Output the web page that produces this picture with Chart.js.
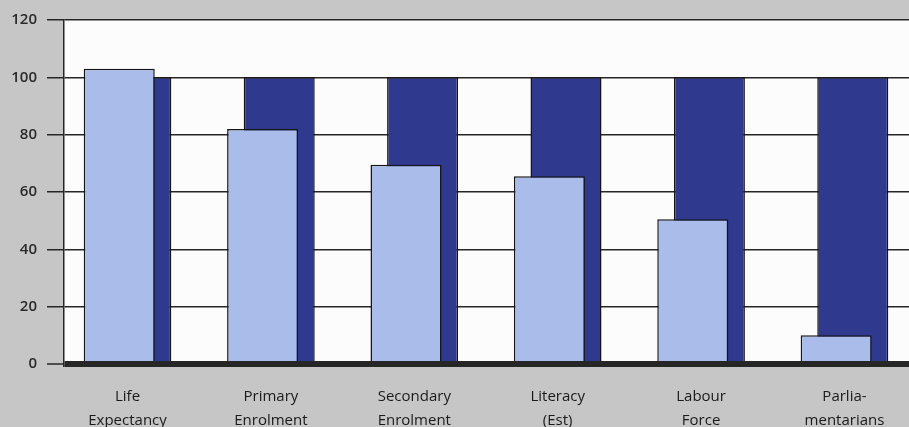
<!DOCTYPE html>
<html>
<head>
<meta charset="utf-8">
<script src="https://cdn.jsdelivr.net/npm/chart.js@4/dist/chart.umd.min.js"></script>
<style>
  html, body { margin: 0; padding: 0; background: #c6c6c6; overflow: hidden; }
  #wrap { position: relative; width: 909px; height: 427px; }
</style>
</head>
<body>
<div id="wrap"><canvas id="chart"></canvas></div>
<script>
const categories = [
    ['Life', 'Expectancy'],
    ['Primary', 'Enrolment'],
    ['Secondary', 'Enrolment'],
    ['Literacy', '(Est)'],
    ['Labour', 'Force'],
    ['Parlia-', 'mentarians']
];
const womenValues = [103, 82, 69.5, 65.5, 50.5, 10];
const menValues = [100, 100, 100, 100, 100, 100];
const yTicks = [0, 20, 40, 60, 80, 100, 120];

// white plot area on the grey scanned page
const plotBackground = {
    id: 'plotBackground',
    beforeDraw(chart) {
        const { ctx, chartArea } = chart;
        ctx.save();
        ctx.fillStyle = '#fcfcfc';
        ctx.fillRect(chartArea.left, chartArea.top, chartArea.right - chartArea.left, chartArea.bottom - chartArea.top);
        ctx.restore();
    }
};

const ctx = document.getElementById('chart').getContext('2d');
new Chart(ctx, {
    type: 'bar',
    data: {
        datasets: [{
            label: 'Women',
            data: womenValues.map((v, i) => ({ x: i, y: v })),
            backgroundColor: '#aabdea',
            borderColor: '#151515',
            borderWidth: 1.5
        }, {
            label: 'Men',
            data: menValues.map((v, i) => ({ x: i, y: v })),
            backgroundColor: '#2f3a8e',
            borderColor: '#151515',
            borderWidth: 1.5
        }]
    },
    options: {
        responsive: true,
        maintainAspectRatio: false,
        animation: false,
        categoryPercentage: 0.2315,
        barPercentage: 4.28,
        layout: { padding: { top: 20, left: 0, right: 0, bottom: 0 } },
        scales: {
            x: {
                type: 'linear',
                bounds: 'data',
                offset: false,
                min: -0.443,
                max: 5.45,
                afterBuildTicks: scale => {
                    scale.ticks = categories.map((c, i) => ({ value: i }));
                },
                afterFit: scale => { scale.height = 63; },
                grid: { display: false, drawTicks: false },
                border: { display: false },
                ticks: {
                    autoSkip: false,
                    maxRotation: 0,
                    padding: 20,
                    color: '#1a1a1a',
                    font: { family: 'Open Sans', size: 15, lineHeight: 1.65 },
                    callback: value => categories[value] || ''
                }
            },
            y: {
                min: 0,
                max: 120,
                afterBuildTicks: scale => {
                    scale.ticks = yTicks.map(v => ({ value: v }));
                },
                afterFit: scale => { scale.width = 64; },
                grid: {
                    color: '#262626',
                    lineWidth: c => c.tick && c.tick.value === 0 ? 6 : 1.5,
                    tickLength: 17,
                    tickWidth: 1.5,
                    tickColor: '#262626'
                },
                border: { color: '#262626', width: 1.5 },
                ticks: {
                    padding: 10,
                    color: '#2a2a2a',
                    font: { family: 'Open Sans', size: 15, weight: '600' }
                }
            }
        },
        plugins: {
            legend: { display: false },
            tooltip: { enabled: false }
        }
    },
    plugins: [plotBackground]
});
</script>
</body>
</html>
